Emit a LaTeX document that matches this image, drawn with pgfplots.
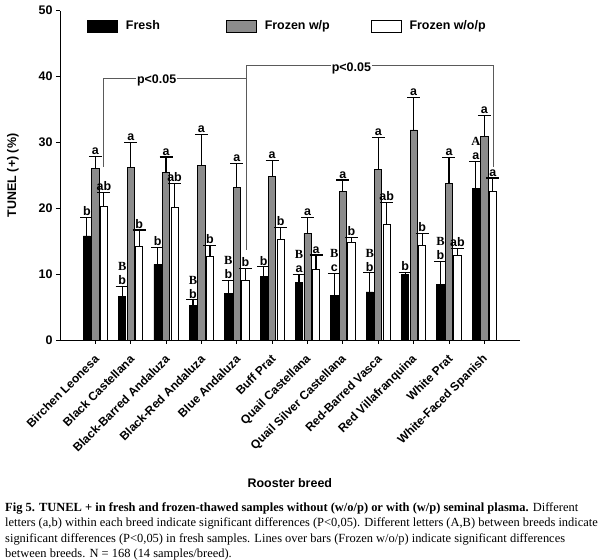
\documentclass[border=0pt]{standalone}
\usepackage{fontspec}
\setmainfont{Liberation Sans}
\newfontfamily\capfont{Liberation Serif}
\usepackage{pgfplots}
\pgfplotsset{compat=1.18}
\usepackage{pgfplotstable}

\definecolor{frozgray}{RGB}{140,140,140}
\definecolor{brk}{RGB}{90,90,90}

% breed index, fresh, +err, frozen w/p, +err, frozen w/o/p, +err
\pgfplotstableread{
x  f    fe   wp   wpe  wop  wope
0  15.8 2.8  26.1 1.8  20.3 2.1
1  6.6  1.5  26.2 3.8  14.2 2.5
2  11.5 2.5  25.5 2.3  20.2 3.6
3  5.3  0.8  26.5 4.7  12.7 1.6
4  7.1  1.9  23.1 3.7  9.0  1.9
5  9.6  1.5  24.8 2.5  15.3 1.8
6  8.7  1.3  16.2 2.4  10.7 2.2
7  6.7  3.4  22.6 1.7  14.8 0.8
8  7.3  2.9  25.9 4.8  17.6 3.3
9  9.9  0.4  31.9 4.9  14.3 1.9
10 8.5  3.4  23.8 3.9  12.8 1.1
11 23.0 4.1  30.9 3.2  22.6 2.0
}\tunel

\newcommand{\lblfont}{\bfseries\fontsize{12.5}{12.5}\selectfont}
\newcommand{\capsfont}{\capfont\bfseries\fontsize{12.5}{12.5}\selectfont}
% letter over a bar: x, error top, bar shift, text
\newcommand{\lab}[4]{\node[anchor=south, inner sep=0pt, yshift=1.5bp, font=\lblfont] at ([xshift=#3]axis cs:#1,#2) {#4};}
\newcommand{\labU}[4]{\node[anchor=south, inner sep=0pt, yshift=15.5bp, font=\capsfont] at ([xshift=#3]axis cs:#1,#2) {#4};}

\begin{document}
\begin{tikzpicture}
\useasboundingbox (0,0) rectangle (600bp,560bp);
\begin{axis}[
    at={(60bp,220bp)}, anchor=south west,
    scale only axis,
    width=459.7bp, height=329.3bp,
    xmin=-1, xmax=12, ymin=0, ymax=50,
    axis lines*=left,
    axis line style={line width=0.8pt},
    tick align=outside,
    major tick length=4bp,
    tick style={black, line width=0.8pt},
    ytick={0,10,...,50},
    xtick={0,...,11},
    xticklabels={Birchen Leonesa, Black Castellana, Black-Barred Andaluza,
        Black-Red Andaluza, Blue Andaluza, Buff Prat, Quail Castellana,
        Quail Silver Castellana, Red-Barred Vasca, Red Villafranquina,
        White Prat, White-Faced Spanish},
    /pgf/number format/assume math mode=true,
    yticklabel style={font=\lblfont},
    xticklabel style={font=\bfseries\fontsize{12}{12}\selectfont,
        xshift=1.5bp, yshift=-13bp, rotate=45, anchor=east, inner sep=0pt},
    ylabel={TUNEL (+) (\%)},
    xlabel={Rooster breed},
    every axis y label/.style={at={(axis description cs:-0.1022,0.5)}, rotate=90, anchor=center, font=\lblfont},
    every axis x label/.style={at={(axis description cs:0.5,-0.4337)}, anchor=center, font=\lblfont},
    ybar, bar width=7.2bp,
    error bars/y dir=plus,
    error bars/y explicit,
    error bars/error bar style={black, line width=1.2pt},
    error bars/error mark options={rotate=90, mark size=6.5bp, line width=1.2pt, black},
    legend style={at={(axis description cs:0.0587,0.9535)}, anchor=west,
        draw=none, fill=none, legend columns=3, inner sep=0pt,
        column sep=0pt, row sep=0pt, font=\lblfont,
        cells={anchor=west, inner sep=0pt}},
]
\addplot[bar shift=-8.5bp, fill=black, draw=black, line width=0.8pt,
    legend image code/.code={\draw[fill=black, draw=black, line width=0.8pt] (0bp,-6bp) rectangle (30bp,6bp); \path (36bp,0bp);}]
    table[x=x, y=f, y error=fe] {\tunel};
\addlegendentry{\makebox[98bp][l]{Fresh}}
\addplot[bar shift=0bp, fill=frozgray, draw=black, line width=0.8pt,
    legend image code/.code={\draw[fill=frozgray, draw=black, line width=0.8pt] (0bp,-6bp) rectangle (30bp,6bp); \path (36bp,0bp);}]
    table[x=x, y=wp, y error=wpe] {\tunel};
\addlegendentry{\makebox[104bp][l]{Frozen w/p}}
\addplot[bar shift=8.5bp, fill=white, draw=black, line width=0.8pt,
    legend image code/.code={\draw[fill=white, draw=black, line width=0.8pt] (0bp,-6bp) rectangle (30bp,6bp); \path (36bp,0bp);}]
    table[x=x, y=wop, y error=wope] {\tunel};
\addlegendentry{Frozen w/o/p}

% significance brackets over the Frozen w/o/p bars
\draw[brk, line width=0.8pt] (axis cs:0.24,26.3) -- (axis cs:0.24,39.7) -- (axis cs:4.28,39.7);
\draw[brk, line width=0.8pt] (axis cs:4.28,13.7) -- (axis cs:4.28,41.7) -- (axis cs:11.26,41.7) -- (axis cs:11.26,26.3);
\node[fill=white, inner sep=1bp, font=\lblfont] at (axis cs:1.733,39.4) {p<0.05};
\node[fill=white, inner sep=1bp, font=\lblfont] at (axis cs:7.24,41.3) {p<0.05};

% letters
\lab{0}{18.6}{-8.5bp}{b}  \lab{0}{27.9}{0bp}{a}  \lab{0}{22.4}{8.5bp}{ab}
\lab{1}{8.1}{-8.5bp}{b}   \labU{1}{8.1}{-8.5bp}{B}  \lab{1}{30.0}{0bp}{a}  \lab{1}{16.7}{8.5bp}{b}
\lab{2}{14.0}{-8.5bp}{b}  \lab{2}{27.8}{0bp}{a}  \lab{2}{23.8}{8.5bp}{ab}
\lab{3}{6.1}{-8.5bp}{b}   \labU{3}{6.1}{-8.5bp}{B}  \lab{3}{31.2}{0bp}{a}  \lab{3}{14.3}{8.5bp}{b}
\lab{4}{9.0}{-8.5bp}{b}   \labU{4}{9.0}{-8.5bp}{B}  \lab{4}{26.8}{0bp}{a}  \lab{4}{10.9}{8.5bp}{b}
\lab{5}{11.1}{-8.5bp}{b}  \lab{5}{27.3}{0bp}{a}  \lab{5}{17.1}{8.5bp}{b}
\lab{6}{10.0}{-8.5bp}{a}  \labU{6}{10.0}{-8.5bp}{B}  \lab{6}{18.6}{0bp}{a}  \lab{6}{12.9}{8.5bp}{a}
\lab{7}{10.1}{-8.5bp}{c}  \labU{7}{10.1}{-8.5bp}{B}  \lab{7}{24.3}{0bp}{a}  \lab{7}{15.6}{8.5bp}{b}
\lab{8}{10.2}{-8.5bp}{b}  \labU{8}{10.2}{-8.5bp}{B}  \lab{8}{30.7}{0bp}{a}  \lab{8}{20.9}{8.5bp}{ab}
\lab{9}{10.3}{-8.5bp}{b}  \lab{9}{36.8}{0bp}{a}  \lab{9}{16.2}{8.5bp}{b}
\lab{10}{11.9}{-8.5bp}{b} \labU{10}{11.9}{-8.5bp}{B} \lab{10}{27.7}{0bp}{a} \lab{10}{13.9}{8.5bp}{ab}
\lab{11}{27.1}{-8.5bp}{a} \labU{11}{27.1}{-8.5bp}{A} \lab{11}{34.1}{0bp}{a} \lab{11}{24.6}{8.5bp}{a}
\end{axis}

\node[anchor=north west, inner sep=0pt, align=left,
    font=\capfont\fontsize{12.5}{15.6}\selectfont] at (5bp,57.7bp)
{\textbf{Fig 5. TUNEL + in fresh and frozen-thawed samples without (w/o/p) or with (w/p) seminal plasma.} Different\\
letters (a,b) within each breed indicate significant differences (P<0,05). Different letters (A,B) between breeds indicate\\
significant differences (P<0,05) in fresh samples. Lines over bars (Frozen w/o/p) indicate significant differences\\
between breeds. N = 168 (14 samples/breed).};
\end{tikzpicture}
\end{document}
